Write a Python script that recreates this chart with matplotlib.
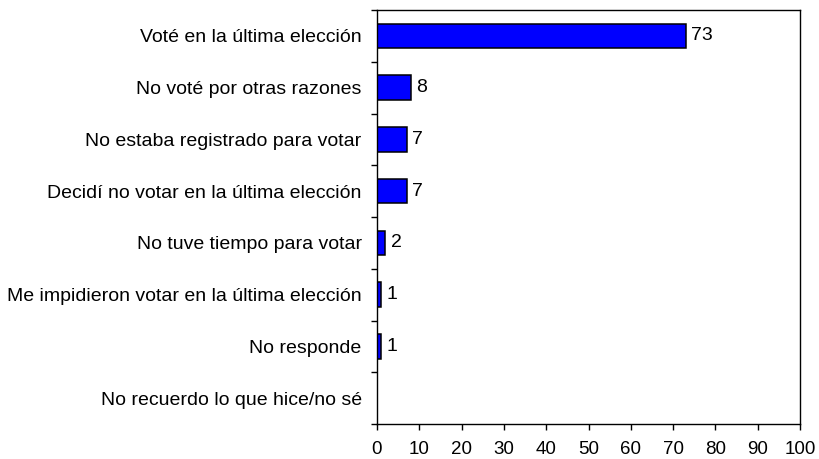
import matplotlib
matplotlib.use("Agg")
import matplotlib.pyplot as plt
import numpy as np

categories = [
    "Voté en la última elección",
    "No voté por otras razones",
    "No estaba registrado para votar",
    "Decidí no votar en la última elección",
    "No tuve tiempo para votar",
    "Me impidieron votar en la última elección",
    "No responde",
    "No recuerdo lo que hice/no sé",
]
values = [73, 8, 7, 7, 2, 1, 1, 0]
xticks = list(range(0, 101, 10))

plt.rcParams['font.family'] = ['Liberation Sans', 'DejaVu Sans']

fig = plt.figure(figsize=(8.19, 4.59), dpi=100)
ax = fig.add_axes([377/819, 1 - 424/459, (800 - 377)/819, (424 - 10)/459])

fs = 13.5
y = np.arange(len(categories))
vals_plot = [v if v > 0 else np.nan for v in values]
ax.barh(y, vals_plot, height=0.47, color='#0000FF', edgecolor='black', linewidth=1.1)
for yi, v in zip(y, values):
    if v > 0:
        ax.text(v + 1.2, yi, str(v), va='center', ha='left', fontsize=14)

ax.set_xlim(0, 100)
ax.set_ylim(len(categories) - 0.5, -0.5)
ax.set_xticks(xticks)
ax.set_xticklabels([str(t) for t in xticks], fontsize=fs)
ax.set_yticks(y)
ax.set_yticklabels(categories, fontsize=14)
ax.set_yticks(np.arange(-0.5, len(categories), 1.0), minor=True)
ax.tick_params(axis='y', which='major', length=0, pad=11)
ax.tick_params(axis='y', which='minor', length=4, width=1, direction='out')
ax.tick_params(axis='x', which='major', length=4, width=1, direction='out', pad=8.5)
for s in ax.spines.values():
    s.set_linewidth(1.0)
    s.set_color('black')

fig.savefig("out.png", dpi=100)
